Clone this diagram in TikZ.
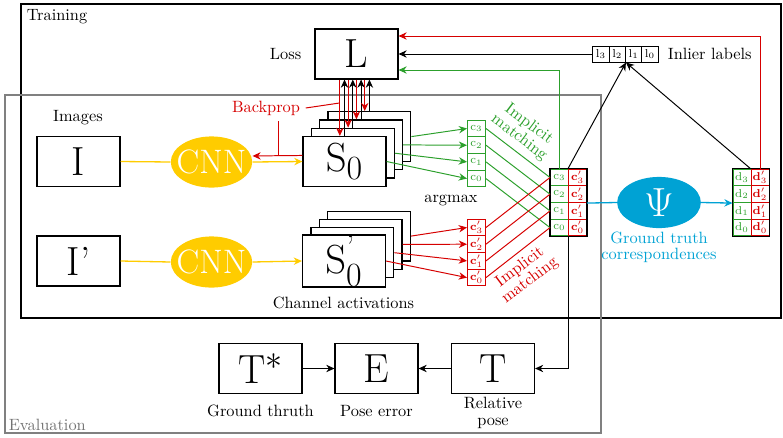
\documentclass[tikz,border=0pt]{standalone}
\usepackage{amsmath}
\usetikzlibrary{arrows.meta,positioning,shapes.geometric,calc}
\definecolor{cnnyellow}{RGB}{255,204,0}
\definecolor{matchgreen}{RGB}{44,160,44}
\definecolor{bpred}{RGB}{214,0,0}
\definecolor{gtcyan}{RGB}{0,162,212}
\tikzset{
	bigbox/.style={draw, thick, fill=white, minimum width=1.78cm, minimum height=1.07cm, inner sep=0pt, font=\Huge},
	blob/.style={ellipse, fill=#1, text=white, inner sep=0pt, minimum width=1.75cm, minimum height=1.1cm},
	gcell/.style={draw=matchgreen, text=matchgreen, semithick, minimum width=0.387cm, minimum height=0.36cm, inner sep=0pt, font=\scriptsize},
	rcell/.style={gcell, draw=bpred, text=bpred},
	lcell/.style={gcell, draw=black, text=black, minimum width=0.35cm, minimum height=0.344cm},
	arr/.style={-{Stealth[length=5pt,width=4.5pt]}, semithick},
}
\begin{document}
\begin{tikzpicture}[x=0.0215cm, y=-0.0215cm]
	\useasboundingbox (0,0) rectangle (783,437);
	\draw[thick] (21,4) rectangle (781,318);
	\node[anchor=north west] (trainlabel) at (21,4) {Training};
	\draw[thick, black!50] (5,95) rectangle (601,433);
	\node[anchor=base west, text=black!55] (evallabel) at (3,430) {Evaluation};

	% loss, images, networks
	\node[bigbox] (loss) at (356.5,54) {L};
	\node[left=0.16cm of loss] (losslabel) {Loss};
	\node[bigbox] (imga) at (78.5,161.5) {I};
	\node (imglabel) at (78,118) {Images};
	\node[bigbox] (imgb) at (78.5,261) {I'};
	\node[blob=cnnyellow, font=\huge] (cnna) at (211.5,162) {\makebox[0pt]{CNN}};
	\node[blob=cnnyellow, font=\huge] (cnnb) at (211.5,262) {\makebox[0pt]{CNN}};

	% channel activations
	\foreach \k in {3,2,1} {
		\node[bigbox] (sa\k) at (344.5+8.3*\k,161.5-8.3*\k) {};
		\node[bigbox] (sb\k) at (344+8.3*\k,261-8.3*\k) {};
	}
	\node[bigbox] (sa0) at (344.5,161.5) {$\mathrm{S}_0$};
	\node[bigbox] (sb0) at (344,261) {$\mathrm{S}^{\text{'}}_0$};
	\node (chanlabel) at (343.5,303) {Channel activations};
	\node (argmaxlabel) at (451,200) {argmax};

	% cells
	\foreach \k/\y in {3/128.5,2/145.2,1/161.9,0/178.6} {
		\node[gcell] (gc\k) at (476.5,\y) {$\mathrm{c}_\k$};
		\node[rcell] (rc\k) at (476.5,\y+99) {$\mathbf{c}'_\k$};
		\node[gcell] (mg\k) at (559.5,\y+49) {$\mathrm{c}_\k$};
		\node[rcell] (mr\k) at (577.5,\y+49) {$\mathbf{c}'_\k$};
		\node[gcell] (dg\k) at (742,\y+49) {$\mathrm{d}_\k$};
		\node[rcell] (dr\k) at (760,\y+49) {$\mathbf{d}'_\k$};
	}
	\draw[thick] (mg3.north west) rectangle (mr0.south east);
	\draw[thick] (dg3.north west) rectangle (dr0.south east);
	\foreach \k/\x in {3/601,2/617.3,1/633.6,0/650}
		\node[lcell] (lc\k) at (\x,54) {$\mathrm{l}_\k$};
	\node[right=0.075cm of lc0] (inllabel) {Inlier labels};

	\node[text=matchgreen, rotate=-37, align=center, inner sep=1pt] (gmatch) at (524,131) {Implicit\\[-2pt]matching};
	\node[text=bpred, rotate=37, align=center, inner sep=1pt] (rmatch) at (525,274) {Implicit\\[-2pt]matching};

	\node[blob=gtcyan, font=\Huge, minimum width=1.8cm] (psi) at (659,202.5) {$\Psi$};
	\node[text=gtcyan, align=center] (gtlabel) at (659,247) {Ground truth\\[-2pt]correspondences};

	% evaluation
	\node[bigbox] (tstar) at (260.5,368.5) {$\mathrm{T}^*$};
	\node[bigbox] (err) at (376.5,368.5) {E};
	\node[bigbox] (tpose) at (493,368.5) {T};
	\node (tstarlabel) at (260.5,411) {Ground thruth};
	\node (errlabel) at (376.5,411) {Pose error};
	\node[align=center] (tposelabel) at (493,413) {Relative\\[-2pt]pose};

	% connectors
	\draw[cnnyellow, thick] (imga.east) -- (cnna.west);
	\draw[cnnyellow, thick, -{Stealth[length=5pt,width=4.5pt]}] (cnna.east) -- (sa0.west);
	\draw[cnnyellow, thick] (imgb.east) -- (cnnb.west);
	\draw[cnnyellow, thick, -{Stealth[length=5pt,width=4.5pt]}] (cnnb.east) -- (sb0.west);

	\coordinate (bpfrom) at ([yshift=0.13cm]sa0.west);
	\coordinate (bpto) at ([yshift=0.13cm]cnna.east);
	\draw[bpred, arr] (bpfrom) -- (bpto);
	\node[text=bpred] (bplabel) at (266,108) {Backprop};
	\coordinate (bpdrop) at ([xshift=0.26cm]bplabel.south);
	\coordinate (bphit) at (339.5,103);
	\draw[bpred, semithick] (bpdrop) -- (bpdrop |- bpto);
	\draw[bpred, semithick] (bplabel.east) -- (bphit);

	\foreach \k in {0,...,3} {
		\draw[bpred, arr] ($(sa\k.north |- loss.south)+(-0.1cm,0)$) -- ([xshift=-0.1cm]sa\k.north);
		\draw[arr] (sa\k.north) -- (sa\k.north |- loss.south);
		\draw[matchgreen, arr] (sa\k.east) -- (gc\k.west);
		\draw[bpred, arr] (sb\k.east) -- (rc\k.west);
		\draw[matchgreen, semithick] (gc\k.east) -- (mg\k.west);
		\draw[bpred, semithick] (rc\k.east) -- (mg\k.west);
	}

	\draw[matchgreen, arr] (mg3.north) |- ([yshift=-0.344cm]loss.east);
	\draw[bpred, arr] (dr3.north) |- ([yshift=0.387cm]loss.east);
	\draw[arr] (lc3.west) -- (lc3.west -| loss.east);
	\draw[arr] (mr3.north west) -- (lc2.south east);
	\draw[arr] (dr3.north west) -- (lc2.south east);
	\draw[gtcyan, thick] (mr2.south east) -- (psi.west);
	\draw[gtcyan, thick, -{Stealth[length=5pt,width=4.5pt]}] (psi.east) -- (dg2.south west);
	\draw[arr] (mr0.south west) |- (tpose.east);
	\draw[arr] (tstar) -- (err);
	\draw[arr] (tpose) -- (err);
\end{tikzpicture}
\end{document}
